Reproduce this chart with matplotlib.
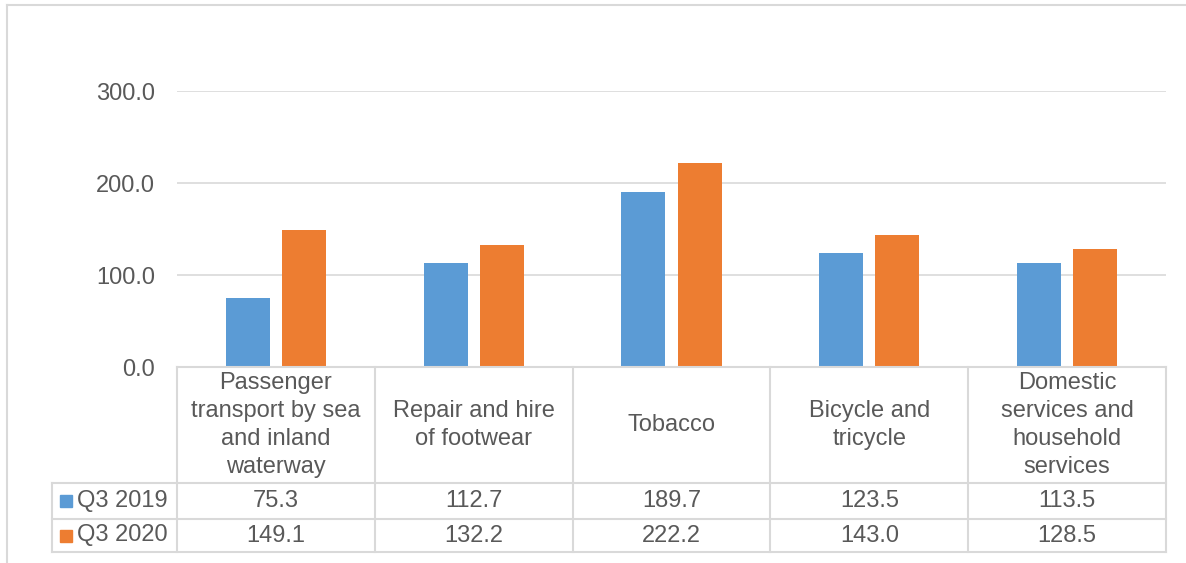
import numpy as np
import matplotlib.pyplot as plt
from matplotlib.lines import Line2D
from matplotlib.patches import Rectangle
import matplotlib.transforms as mtransforms

plt.rcParams['font.family'] = ['Liberation Sans', 'DejaVu Sans']

categories = ['Passenger\ntransport by sea\nand inland\nwaterway',
              'Repair and hire\nof footwear',
              'Tobacco',
              'Bicycle and\ntricycle',
              'Domestic\nservices and\nhousehold\nservices']
q3_2019 = [75.3, 112.7, 189.7, 123.5, 113.5]
q3_2020 = [149.1, 132.2, 222.2, 143.0, 128.5]
series_names = ['Q3 2019', 'Q3 2020']
yticks = [0, 100, 200, 300]

BLUE = '#5B9BD5'
ORANGE = '#ED7D31'
TXT = '#595959'
GRID = '#D9D9D9'
FS = 17

W, H = 1186, 563
fig = plt.figure(figsize=(W / 100, H / 100), dpi=100)

# plot area in pixels
x0, x1 = 177, 1166
ytop, ybot = 91, 367
ax = fig.add_axes([x0 / W, 1 - ybot / H, (x1 - x0) / W, (ybot - ytop) / H])

x = np.arange(len(categories))
bw = 0.222
ax.bar(x - 0.142, q3_2019, width=bw, color=BLUE, zorder=3)
ax.bar(x + 0.142, q3_2020, width=bw, color=ORANGE, zorder=3)
ax.set_xlim(-0.5, len(categories) - 0.5)
ax.set_ylim(0, 300)
ax.set_yticks(yticks)
ax.set_yticklabels([f'{v:.1f}' for v in yticks], color=TXT, fontsize=FS)
ax.tick_params(axis='y', length=0, pad=16)
ax.set_xticks([])
ax.yaxis.grid(True, color=GRID, linewidth=1.2, zorder=0)
for s in ax.spines.values():
    s.set_visible(False)

# data table below the plot, columns follow the category axis
trans = mtransforms.blended_transform_factory(ax.transData, fig.transFigure)
left_edge = -0.5 - 125 / ((x1 - x0) / len(categories))
right_edge = len(categories) - 0.5
y_hdr_top = 1 - 367 / H
y_r1 = 1 - 483 / H
y_r2 = 1 - 519 / H
y_bot = 1 - 552 / H

lk = dict(color=GRID, linewidth=1.5, transform=trans, clip_on=False)
fig.add_artist(Line2D([-0.5, right_edge], [y_hdr_top, y_hdr_top], **lk))
for yy in [y_r1, y_r2, y_bot]:
    fig.add_artist(Line2D([left_edge, right_edge], [yy, yy], **lk))
fig.add_artist(Line2D([left_edge, left_edge], [y_r1, y_bot], **lk))
for i in range(len(categories) + 1):
    fig.add_artist(Line2D([i - 0.5, i - 0.5], [y_hdr_top, y_bot], **lk))

for i, cat in enumerate(categories):
    fig.text(i, (y_hdr_top + y_r1) / 2, cat, transform=trans, ha='center',
             va='center', fontsize=FS, color=TXT, linespacing=1.35)
    fig.text(i, (y_r1 + y_r2) / 2, f'{q3_2019[i]:.1f}', transform=trans,
             ha='center', va='center', fontsize=FS, color=TXT)
    fig.text(i, (y_r2 + y_bot) / 2, f'{q3_2020[i]:.1f}', transform=trans,
             ha='center', va='center', fontsize=FS, color=TXT)

for name, col, (ya, yb) in zip(series_names, [BLUE, ORANGE],
                               [(y_r1, y_r2), (y_r2, y_bot)]):
    ym = (ya + yb) / 2
    fig.add_artist(Rectangle((60 / W, ym - 6 / H), 12 / W, 12 / H,
                             color=col, transform=fig.transFigure))
    fig.text(77 / W, ym, name, ha='left', va='center', fontsize=FS, color=TXT)

# outer chart frame
fig.add_artist(Line2D([7 / W, 7 / W], [0, 1 - 5 / H], color=GRID, linewidth=1.5))
fig.add_artist(Line2D([7 / W, 1], [1 - 5 / H, 1 - 5 / H], color=GRID, linewidth=1.5))

fig.savefig('out.png', dpi=100)
